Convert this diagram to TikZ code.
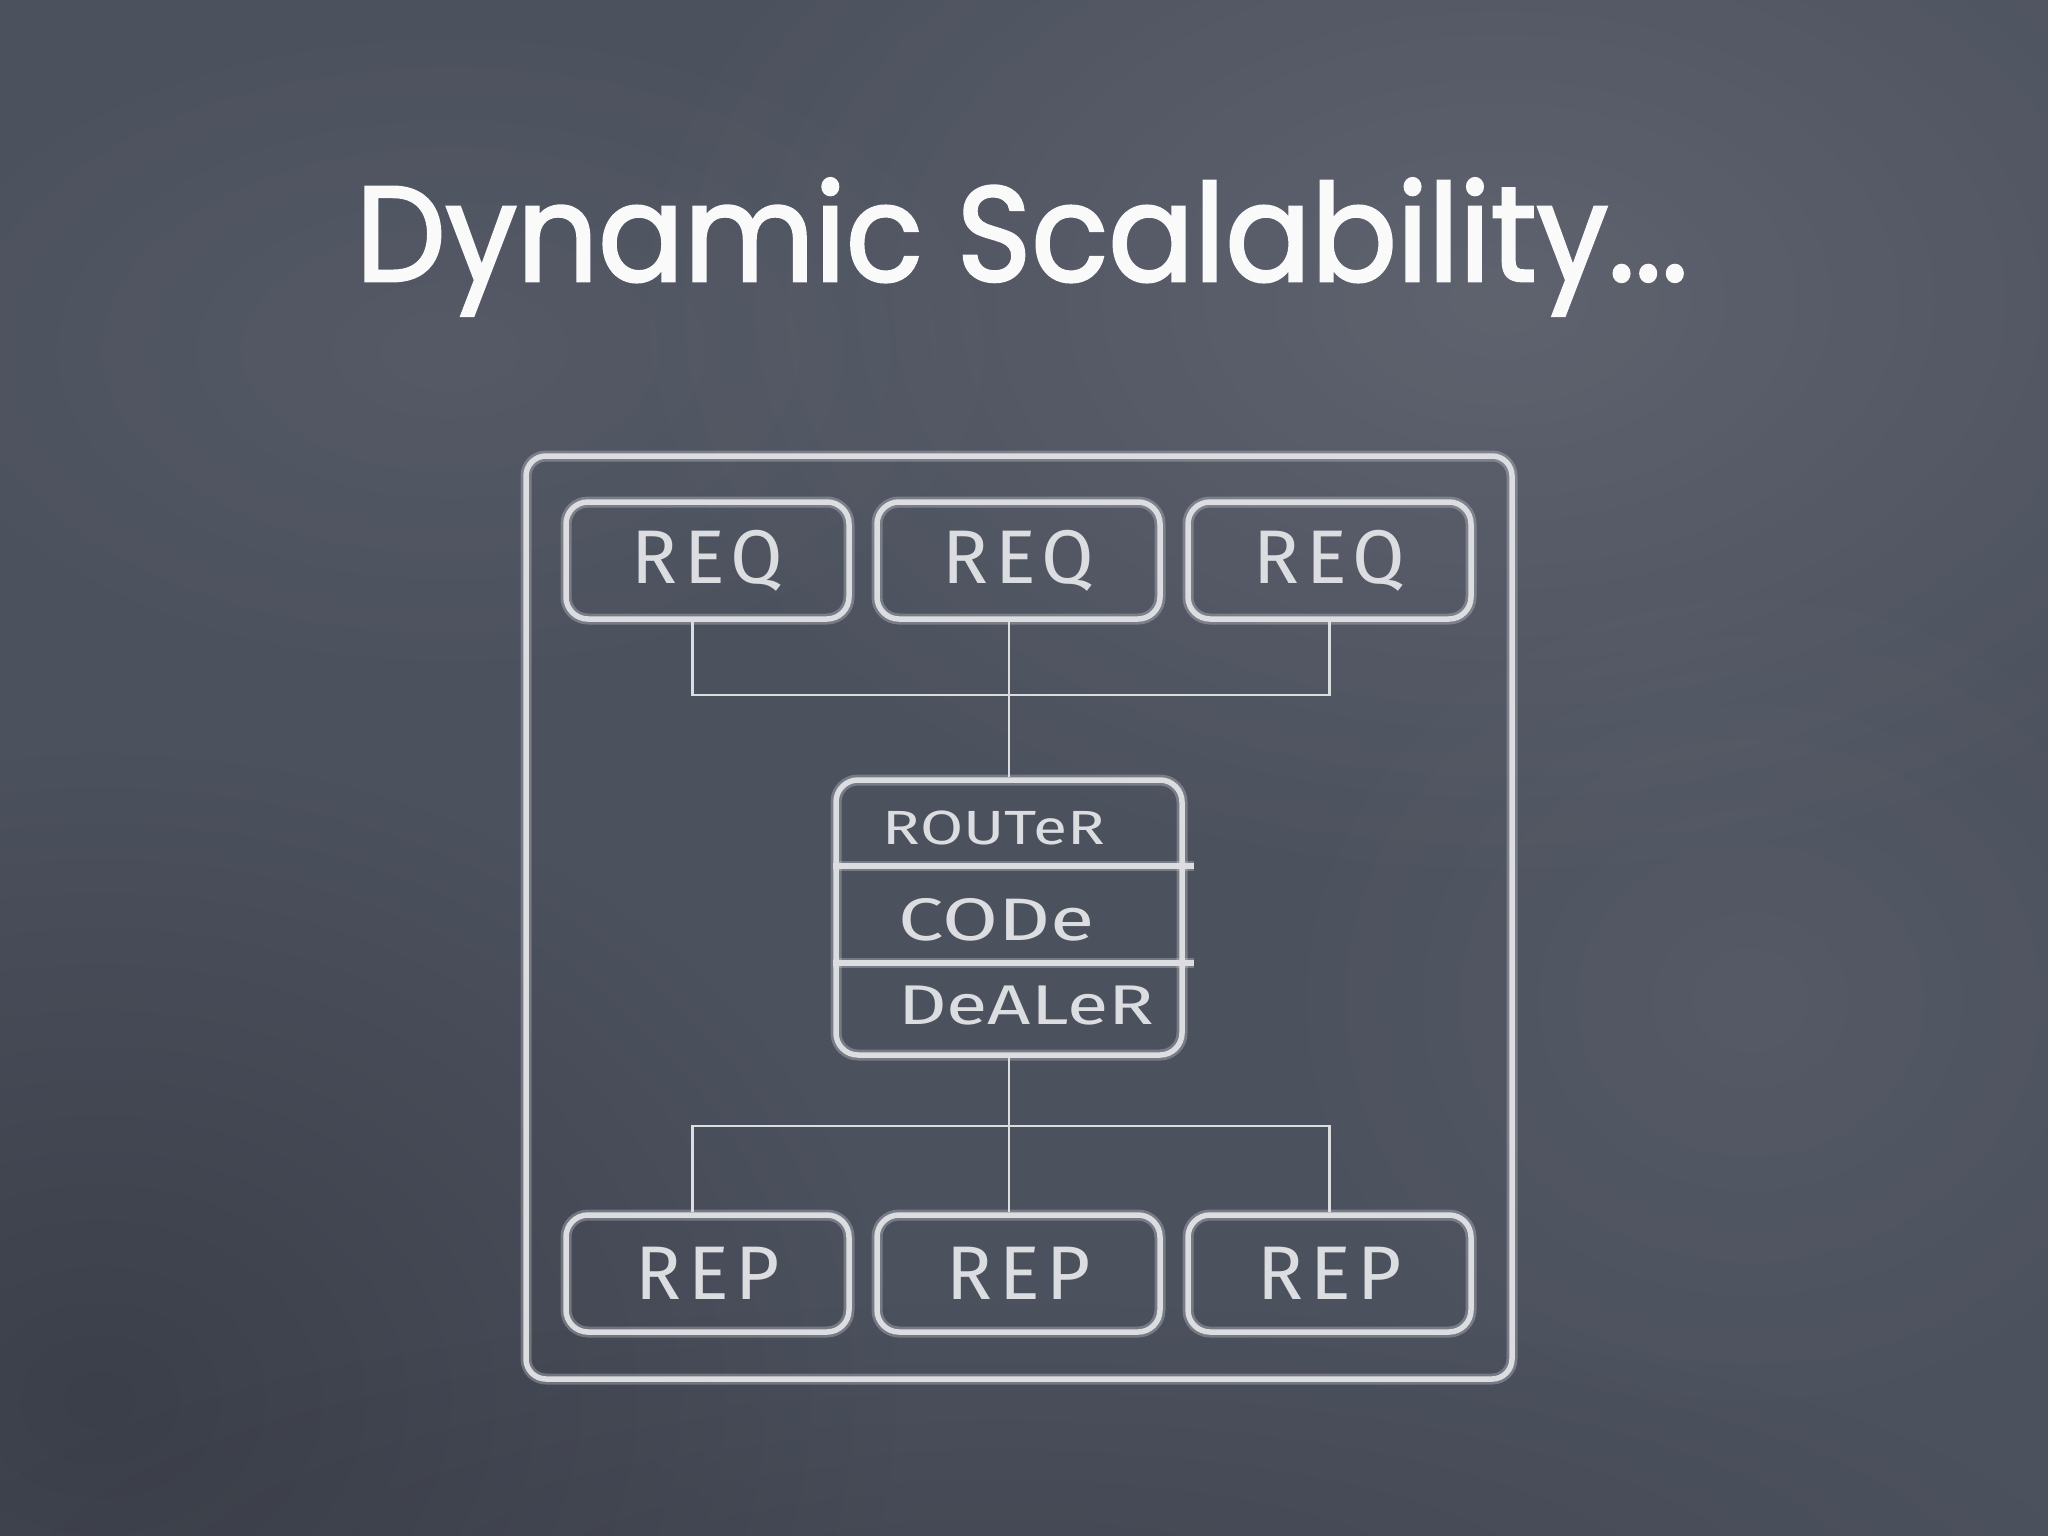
\documentclass[tikz,border=0pt]{standalone}
\usepackage{fontspec}
\usetikzlibrary{fadings}
\setmainfont{Poppins}
\newfontfamily\titlefont{Poppins}[FakeBold=2]
\newfontfamily\labfont{Fira Sans}
\newfontfamily\boxfont{Fira Sans}[LetterSpace=9]
\definecolor{board}{HTML}{4C515E}
\definecolor{chalk}{HTML}{DCDDE1}
\definecolor{titlewhite}{HTML}{FAFAFA}
\tikzfading[name=softspot, inner color=transparent!0, outer color=transparent!100]
\tikzset{
  chalkbox/.style={draw=chalk, line width=5.5pt, rounded corners=22pt,
    preaction={draw=chalk, draw opacity=0.3, line width=11pt},
    minimum width=283pt, minimum height=117pt, inner sep=0pt},
  chalkframe/.style={draw=chalk, line width=5.5pt, rounded corners=20pt,
    preaction={draw=chalk, draw opacity=0.3, line width=11pt},
    minimum width=986pt, minimum height=923pt, inner sep=0pt},
  lbl/.style={text=chalk, font=\boxfont\fontsize{76}{80}\selectfont},
  rlbl/.style={text=chalk, inner sep=0pt},
  wire/.style={draw=chalk, line width=2.2pt},
  divider/.style={draw=chalk, line width=5.5pt, preaction={draw=chalk, draw opacity=0.3, line width=10pt}},
}
\begin{document}
\begin{tikzpicture}[x=1pt,y=-1pt]
\useasboundingbox (0,0) rectangle (2048,1536);
% board
\fill[board] (0,0) rectangle (2048,1536);
\begin{scope}
\clip (0,0) rectangle (2048,1536);
\fill[white, opacity=0.10, path fading=softspot] (1500,300) ellipse (900 and 600);
\fill[white, opacity=0.05, path fading=softspot] (1750,1000) ellipse (500 and 450);
\fill[white, opacity=0.05, path fading=softspot] (450,350) ellipse (600 and 350);
\fill[black, opacity=0.22, path fading=softspot] (100,1400) ellipse (800 and 650);
\fill[black, opacity=0.12, path fading=softspot] (1000,1600) ellipse (1100 and 300);
\end{scope}
% title
\node[anchor=base, text=titlewhite, font=\titlefont\fontsize{135}{150}\selectfont, inner sep=0pt] (title) at (1022,281) {\scalebox{0.94}[1]{Dynamic Scalability...}};
% frame
\node[chalkframe] (frame) at (1019,917.5) {};
% requests
\node[chalkbox, lbl] (req1) at (707.5,560.5) {REQ};
\node[chalkbox, lbl] (req2) at (1018.5,560.5) {REQ};
\node[chalkbox, lbl] (req3) at (1329.5,560.5) {REQ};
% router
\node[chalkbox, minimum width=346pt, minimum height=275pt] (router) at (1009,917.5) {};
\draw[divider] (router.west |- 0,866) -- ([xshift=9pt]router.east |- 0,866);
\draw[divider] (router.west |- 0,963) -- ([xshift=9pt]router.east |- 0,963);
\node[rlbl, font=\labfont\fontsize{48}{54}\selectfont] (rtext) at (994,828) {\scalebox{1.3}[1]{ROUTeR}};
\node[rlbl, font=\labfont\fontsize{60}{66}\selectfont] (ctext) at (997,920) {\scalebox{1.35}[1]{CODe}};
\node[rlbl, font=\labfont\fontsize{56}{62}\selectfont] (dtext) at (1026,1006) {\scalebox{1.35}[1]{DeALeR}};
% replies
\node[chalkbox, lbl] (rep1) at (707.5,1273.5) {REP};
\node[chalkbox, lbl] (rep2) at (1018.5,1273.5) {REP};
\node[chalkbox, lbl] (rep3) at (1329.5,1273.5) {REP};
% connectors
\coordinate (jtop) at (1008,695);
\coordinate (jbot) at (1008,1126);
\draw[wire] ([xshift=-15pt]req1.south) |- (jtop) -| (req3.south);
\draw[wire] (router.north |- req2.south) -- (router.north);
\draw[wire] (router.south) -- (router.south |- rep2.north);
\draw[wire] ([xshift=-15pt]rep1.north) |- (jbot) -| (rep3.north);
\end{tikzpicture}
\end{document}
